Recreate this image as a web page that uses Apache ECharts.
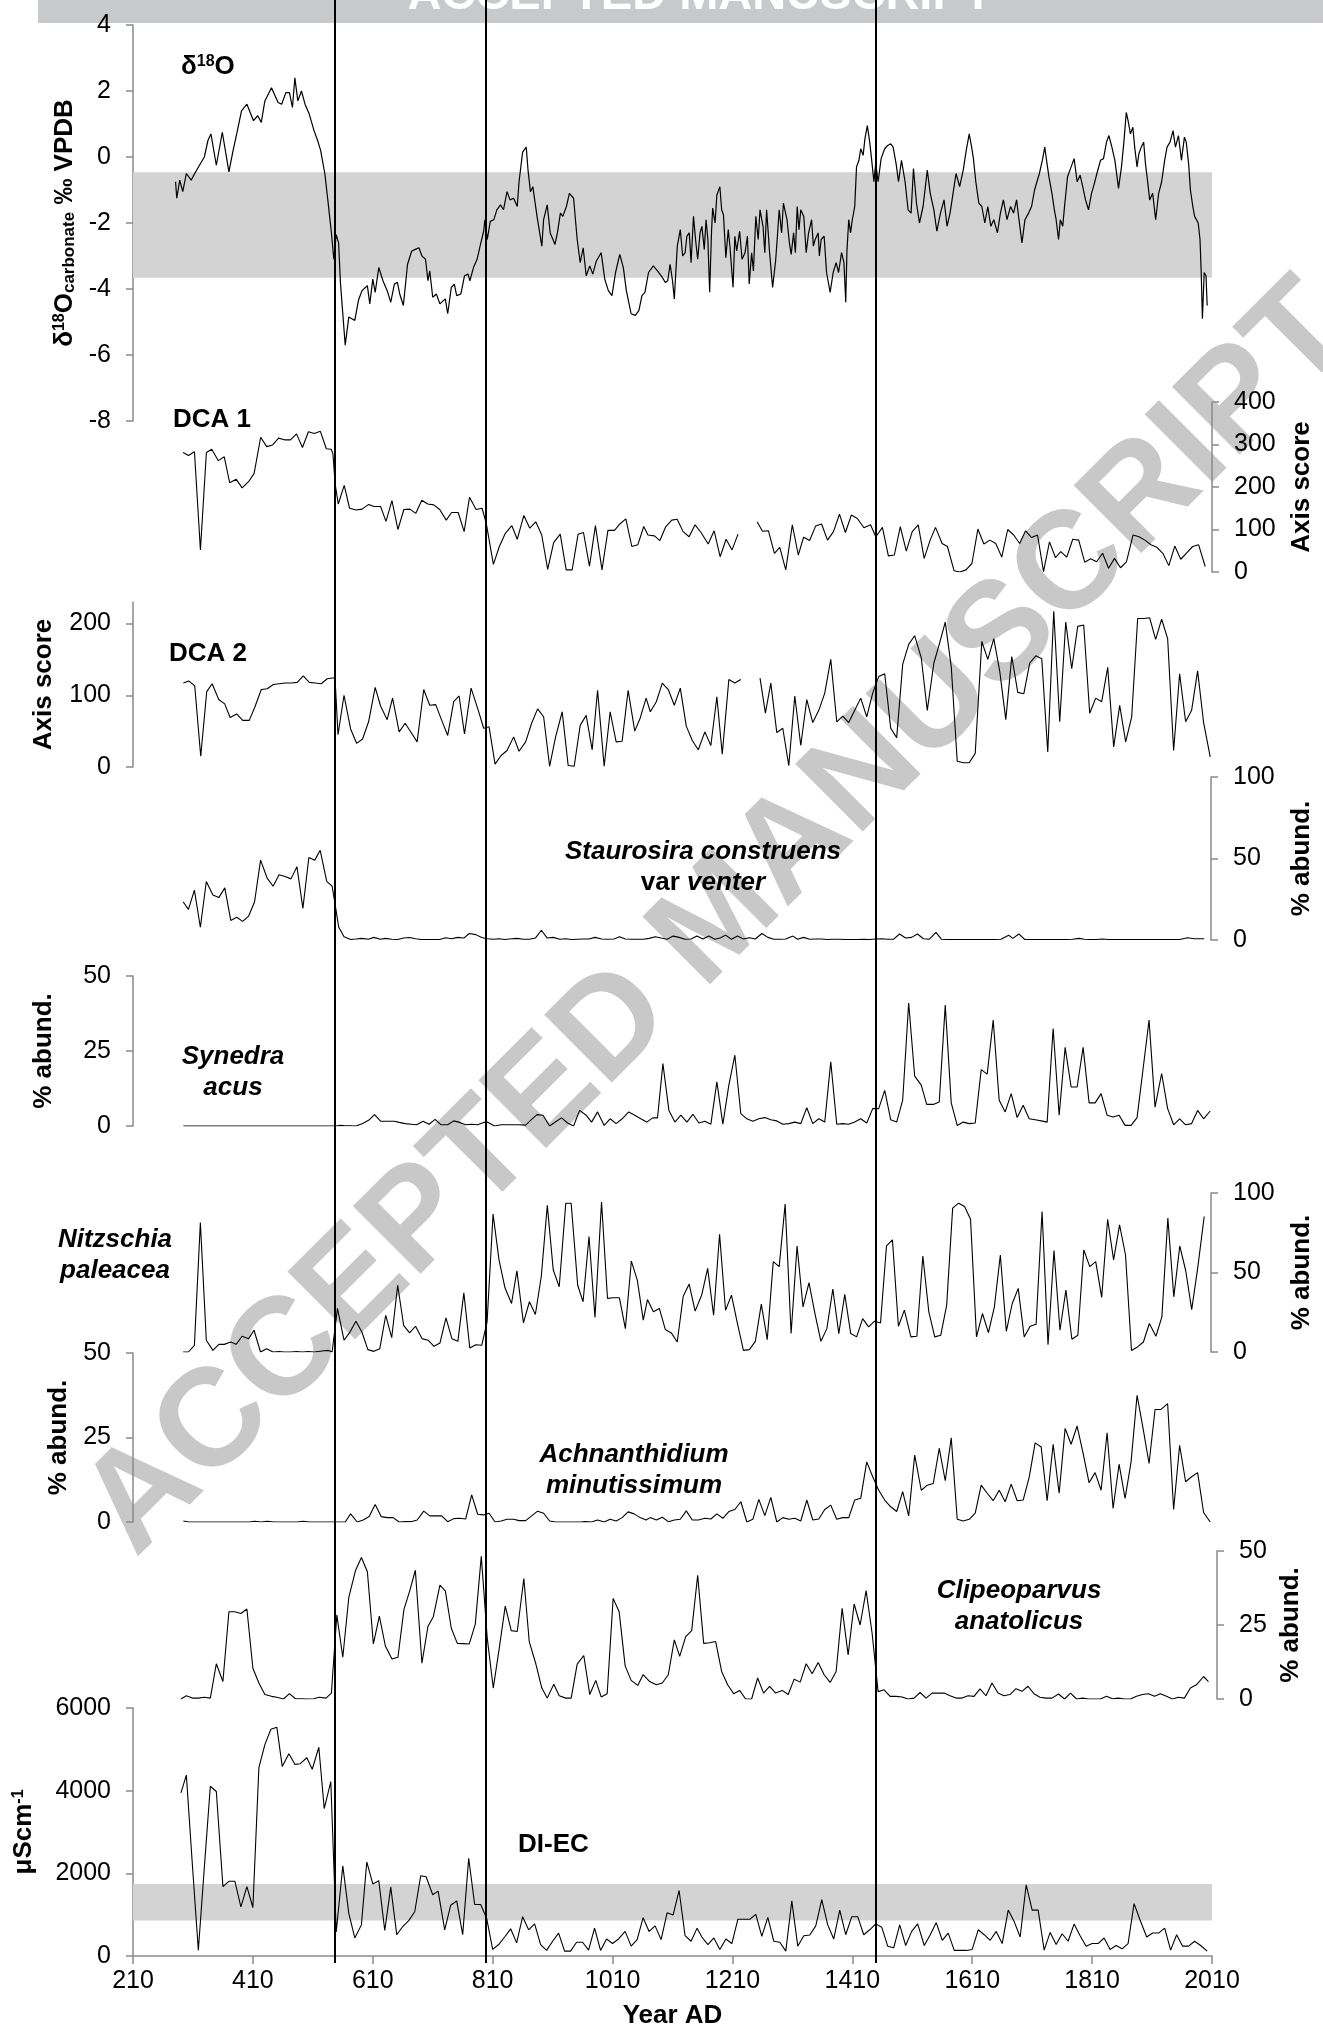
<!DOCTYPE html>
<html>
<head>
<meta charset="utf-8">
<script src="https://cdn.jsdelivr.net/npm/echarts@6/dist/echarts.min.js"></script>
<style>
  html, body { margin: 0; padding: 0; background: #fff; }
  #chart { width: 1323px; height: 2030px; }
</style>
</head>
<body>
<div id="chart"></div>
<script>
// ---- Data: [year AD, value] ----
const yearTicks = [210, 410, 610, 810, 1010, 1210, 1410, 1610, 1810, 2010];
const zoneBoundaries = [547, 798, 1449];

const d18O = [[281,-0.75],[283,-1.25],[288,-0.7],[293,-1.05],[299,-0.5],[307,-0.7],[316,-0.4],[329,0.0],[335,0.5],[340,0.7],[349,-0.25],[359,0.75],[370,-0.45],[377,0.2],[383,0.7],[391,1.4],[400,1.6],[411,1.1],[418,1.25],[424,1.05],[430,1.7],[441,2.1],[452,1.65],[458,1.6],[465,1.95],[471,1.95],[476,1.5],[480,2.4],[485,1.7],[491,2.0],[497,1.6],[504,1.3],[512,0.8],[518,0.5],[523,0.2],[526,-0.1],[530,-0.5],[535,-1.3],[541,-2.3],[545,-3.1],[549,-2.35],[553,-2.6],[556,-3.8],[560,-4.75],[564,-5.7],[570,-4.85],[575,-4.9],[580,-4.95],[586,-4.35],[592,-4.05],[601,-3.9],[605,-4.45],[610,-3.7],[614,-4.1],[620,-3.35],[627,-3.75],[634,-4.05],[640,-4.4],[646,-3.85],[651,-3.8],[655,-4.15],[661,-4.5],[668,-3.25],[675,-2.85],[681,-2.8],[687,-2.75],[692,-3.0],[698,-3.1],[702,-3.75],[705,-3.45],[710,-4.25],[716,-4.15],[722,-4.45],[731,-4.3],[735,-4.75],[741,-3.95],[746,-3.85],[750,-4.2],[757,-4.15],[763,-3.6],[769,-3.55],[772,-3.75],[778,-3.35],[784,-3.1],[789,-2.7],[795,-2.25],[797,-1.9],[801,-2.5],[806,-1.95],[812,-1.9],[817,-1.6],[823,-1.45],[828,-1.6],[834,-1.05],[839,-1.3],[845,-1.25],[851,-1.5],[854,-0.75],[860,0.15],[866,0.3],[869,-0.4],[873,-1.05],[877,-0.9],[884,-1.8],[892,-2.7],[895,-1.9],[901,-1.45],[906,-2.3],[914,-2.65],[918,-2.3],[923,-1.7],[927,-1.8],[933,-1.5],[938,-1.1],[945,-1.25],[951,-2.5],[956,-3.2],[961,-2.75],[966,-3.6],[972,-3.3],[977,-3.55],[983,-3.15],[991,-2.9],[997,-3.7],[1003,-4.05],[1009,-4.2],[1015,-3.5],[1022,-2.95],[1028,-3.35],[1033,-4.05],[1041,-4.75],[1048,-4.8],[1054,-4.65],[1059,-4.2],[1064,-4.1],[1070,-3.5],[1078,-3.3],[1085,-3.45],[1093,-3.65],[1098,-3.8],[1102,-3.75],[1106,-3.25],[1110,-3.75],[1113,-4.3],[1118,-2.7],[1123,-2.2],[1127,-3.0],[1131,-2.9],[1134,-2.4],[1138,-2.3],[1141,-3.2],[1145,-1.8],[1149,-2.6],[1152,-3.1],[1156,-2.3],[1159,-2.1],[1163,-2.8],[1166,-1.9],[1169,-2.5],[1172,-4.1],[1175,-2.3],[1177,-1.55],[1181,-2.0],[1184,-1.15],[1189,-0.9],[1192,-1.6],[1195,-1.75],[1199,-3.05],[1203,-2.2],[1206,-2.75],[1211,-3.95],[1214,-2.4],[1217,-2.85],[1222,-2.25],[1226,-3.1],[1231,-2.9],[1235,-2.4],[1238,-3.85],[1242,-2.9],[1245,-3.45],[1249,-1.8],[1253,-2.5],[1256,-1.6],[1261,-2.1],[1264,-2.9],[1267,-1.6],[1272,-2.9],[1277,-3.95],[1282,-3.15],[1285,-2.4],[1288,-1.6],[1292,-2.3],[1295,-1.4],[1301,-1.9],[1305,-2.6],[1308,-2.95],[1312,-2.3],[1315,-2.9],[1318,-1.5],[1321,-2.2],[1324,-1.6],[1329,-1.8],[1333,-2.9],[1337,-2.3],[1342,-1.9],[1345,-2.7],[1348,-2.5],[1353,-2.3],[1355,-3.0],[1358,-2.5],[1363,-2.4],[1367,-3.5],[1373,-4.1],[1378,-3.5],[1383,-3.2],[1387,-3.5],[1392,-2.9],[1396,-3.2],[1399,-4.4],[1401,-2.85],[1404,-1.9],[1407,-2.3],[1410,-1.9],[1414,-1.5],[1417,-0.3],[1421,-0.1],[1424,0.25],[1428,0.05],[1431,0.55],[1435,0.95],[1439,0.45],[1442,-0.05],[1446,-0.75],[1449,-0.2],[1453,-0.75],[1458,-0.05],[1464,0.25],[1469,0.35],[1474,0.4],[1478,0.3],[1483,-0.2],[1487,-0.75],[1492,-0.1],[1498,-0.75],[1503,-1.6],[1508,-1.7],[1512,-0.35],[1517,-1.4],[1522,-2.0],[1528,-1.5],[1535,-0.4],[1540,-1.1],[1546,-1.6],[1551,-2.25],[1557,-1.7],[1563,-1.3],[1568,-2.1],[1573,-1.7],[1578,-1.1],[1583,-0.5],[1589,-0.9],[1595,-0.4],[1600,0.2],[1605,0.7],[1609,0.3],[1612,-0.05],[1616,-0.75],[1621,-1.4],[1626,-1.5],[1631,-2.0],[1636,-1.5],[1641,-2.1],[1646,-1.9],[1652,-2.3],[1657,-1.7],[1662,-1.3],[1668,-1.9],[1674,-1.5],[1679,-1.7],[1684,-1.3],[1688,-1.9],[1693,-2.6],[1698,-1.9],[1704,-1.7],[1709,-1.5],[1714,-1.0],[1722,-0.5],[1727,-0.1],[1731,0.3],[1734,-0.1],[1738,-0.6],[1743,-1.1],[1747,-1.6],[1750,-1.9],[1754,-2.5],[1757,-1.9],[1761,-2.1],[1764,-1.5],[1769,-0.6],[1775,-0.3],[1780,-0.05],[1785,-0.75],[1790,-0.55],[1795,-0.95],[1799,-1.3],[1804,-1.6],[1809,-1.1],[1813,-0.85],[1818,-0.5],[1824,-0.1],[1829,-0.05],[1834,0.45],[1838,0.65],[1843,0.3],[1848,-0.1],[1854,-0.95],[1859,-0.3],[1863,0.45],[1867,1.35],[1870,1.1],[1874,0.7],[1878,0.9],[1881,0.3],[1885,-0.3],[1888,0.1],[1892,0.3],[1896,0.45],[1899,-0.2],[1903,-0.8],[1906,-1.3],[1911,-1.1],[1916,-1.9],[1921,-1.1],[1926,-0.75],[1931,-0.1],[1935,0.3],[1940,0.45],[1945,0.8],[1949,0.3],[1954,0.65],[1959,-0.1],[1964,0.6],[1967,0.45],[1971,-0.2],[1974,-1.0],[1978,-1.5],[1981,-1.8],[1987,-2.0],[1990,-2.5],[1992,-3.5],[1994,-4.9],[1997,-3.5],[2000,-3.6],[2002,-4.5]];

const dca1 = [[294,281],[303,274],[313,283],[323,52],[333,281],[342,289],[353,262],[363,271],[372,210],[383,218],[393,198],[404,213],[413,232],[424,317],[434,295],[444,299],[454,315],[464,311],[474,311],[484,325],[494,293],[504,330],[514,326],[524,331],[534,290],[542,289],[545,279],[549,205],[554,160],[564,204],[573,150],[584,146],[594,148],[605,159],[614,154],[625,154],[634,119],[644,168],[654,100],[664,147],[674,148],[684,138],[694,169],[704,160],[714,158],[724,147],[735,122],[744,140],[755,140],[765,95],[774,176],[785,147],[795,150],[802,115],[814,18],[824,60],[834,91],[845,109],[854,77],[865,133],[875,103],[885,118],[895,87],[905,6],[915,69],[926,89],[936,5],[946,5],[956,89],[965,93],[975,14],[985,109],[996,5],[1006,98],[1017,98],[1026,113],[1036,125],[1046,60],[1056,64],[1066,107],[1073,87],[1084,85],[1093,74],[1103,107],[1113,122],[1122,124],[1132,95],[1142,83],[1152,111],[1162,93],[1174,66],[1184,97],[1194,36],[1204,77],[1214,52],[1224,89],[1240,null],[1256,118],[1265,96],[1275,97],[1285,44],[1294,58],[1304,5],[1315,111],[1325,40],[1334,82],[1344,74],[1354,108],[1364,113],[1374,75],[1384,95],[1394,136],[1404,93],[1414,134],[1424,126],[1435,104],[1446,111],[1455,83],[1466,105],[1476,38],[1486,40],[1496,107],[1506,49],[1516,95],[1526,111],[1536,32],[1546,75],[1555,105],[1566,67],[1575,60],[1586,3],[1596,0],[1606,5],[1616,20],[1626,101],[1636,66],[1646,75],[1656,67],[1666,35],[1676,100],[1686,87],[1696,67],[1706,97],[1716,81],[1726,87],[1736,1],[1746,71],[1756,34],[1765,48],[1775,35],[1785,77],[1795,75],[1805,23],[1815,31],[1825,24],[1835,44],[1845,9],[1855,32],[1865,10],[1875,24],[1886,87],[1896,83],[1906,75],[1916,64],[1926,58],[1936,44],[1946,15],[1956,61],[1966,30],[1976,45],[1986,60],[1996,64],[2007,13]];

const dca2 = [[294,117],[303,120],[313,113],[323,15],[333,105],[342,116],[353,94],[363,88],[372,69],[383,74],[393,65],[404,65],[413,83],[424,108],[434,109],[444,115],[454,116],[464,117],[474,117],[484,118],[494,127],[504,118],[514,117],[524,116],[534,123],[542,124],[547,124],[552,45],[562,100],[573,53],[583,33],[593,39],[603,63],[614,111],[623,85],[634,66],[643,96],[654,49],[664,61],[674,48],[684,35],[695,108],[705,86],[715,87],[725,65],[735,44],[745,91],[754,99],[763,46],[774,110],[786,79],[795,54],[804,56],[814,4],[824,16],[834,23],[845,42],[854,22],[865,35],[875,61],[885,81],[895,70],[905,1],[915,42],[926,77],[936,2],[946,1],[956,58],[966,72],[976,24],[985,107],[996,1],[1006,77],[1016,35],[1026,36],[1036,107],[1047,50],[1056,68],[1066,96],[1073,77],[1083,91],[1093,117],[1103,108],[1113,86],[1123,110],[1133,57],[1143,37],[1153,24],[1164,49],[1174,30],[1184,98],[1193,18],[1204,122],[1214,117],[1224,122],[1240,null],[1256,124],[1265,75],[1274,117],[1284,48],[1294,54],[1304,2],[1314,99],[1324,30],[1334,94],[1344,62],[1354,79],[1364,103],[1374,150],[1384,63],[1394,71],[1404,62],[1414,79],[1424,96],[1434,70],[1444,103],[1454,126],[1464,130],[1474,54],[1484,41],[1494,143],[1504,171],[1514,183],[1525,152],[1535,79],[1546,145],[1555,171],[1565,202],[1575,140],[1585,8],[1595,6],[1605,6],[1615,19],[1626,175],[1636,150],[1646,179],[1656,133],[1666,66],[1676,154],[1686,104],[1696,102],[1706,145],[1716,155],[1726,151],[1736,21],[1746,217],[1756,63],[1766,202],[1776,137],[1786,196],[1796,198],[1806,75],[1816,96],[1826,91],[1836,139],[1846,28],[1856,86],[1866,35],[1876,70],[1886,207],[1896,207],[1906,208],[1916,178],[1926,206],[1936,179],[1946,23],[1956,130],[1966,63],[1976,79],[1986,134],[1996,62],[2007,14]];

const staurosira = [[294,23.5],[303,18.8],[313,30.6],[323,7.8],[333,35.9],[344,27.6],[354,26],[364,32],[374,12],[384,14],[394,11.4],[404,14.7],[414,23.5],[424,49],[435,38],[445,33],[455,40],[465,39],[475,37.5],[485,45],[495,19.4],[505,50.6],[515,49],[524,55],[535,36],[544,33],[549,22],[555,8],[564,2],[575,0.3],[584,0.6],[594,1],[605,0.5],[614,1.6],[625,0.5],[634,1],[644,0.5],[654,0.3],[664,1.2],[674,1.5],[684,0.8],[694,0.3],[704,0.3],[714,0.3],[724,0.3],[735,1.4],[744,0.8],[755,1.6],[765,1.2],[774,4],[785,3.3],[795,1.5],[804,0.8],[814,0.5],[824,0.8],[834,0.3],[845,0.8],[854,1],[865,0.5],[875,0.5],[885,1.2],[895,6],[905,1.2],[915,1.6],[926,0.5],[936,0.8],[946,0.3],[956,0.5],[965,0.6],[975,0.6],[985,1.6],[996,0.6],[1006,0.5],[1017,0.6],[1026,2],[1036,0.6],[1046,0.5],[1056,0.5],[1066,0.5],[1076,1],[1086,2],[1096,1.2],[1106,0.5],[1116,2.4],[1126,1.6],[1136,0.5],[1146,0.6],[1156,2.4],[1166,0.6],[1176,2.4],[1186,0.5],[1196,1.4],[1204,3],[1214,0.5],[1224,2.4],[1234,0.6],[1244,1.4],[1254,0.6],[1265,4],[1275,1.6],[1285,0.5],[1295,0.5],[1305,0.6],[1317,2.4],[1325,0.5],[1335,1.6],[1345,0.5],[1355,0.6],[1365,0.6],[1375,0.3],[1385,0.5],[1395,0.5],[1405,0.3],[1415,0.3],[1425,0.3],[1435,0.5],[1446,0.3],[1455,0.6],[1466,0.8],[1476,0.5],[1486,0.5],[1496,3.7],[1506,1.2],[1516,1.6],[1526,3.7],[1536,0.8],[1546,0.5],[1557,4.7],[1566,0.5],[1576,0.3],[1586,0.3],[1596,0.3],[1606,0.3],[1616,0.3],[1626,0.3],[1636,0.3],[1646,0.3],[1656,0.3],[1666,0.5],[1679,2.9],[1686,1],[1696,3.7],[1706,0.3],[1716,0.3],[1726,0.3],[1736,0.3],[1746,0.3],[1756,0.3],[1766,0.3],[1776,0.3],[1786,0.5],[1797,1],[1806,0.5],[1816,0.3],[1826,0.3],[1836,0.6],[1846,0.3],[1856,0.3],[1866,0.3],[1876,0.3],[1886,0.3],[1896,0.3],[1906,0.3],[1916,0.3],[1926,0.3],[1936,0.3],[1946,0.3],[1956,0.3],[1966,0.3],[1979,1.4],[1990,0.8],[2007,0.8]];

const synedra = [[294,0],[303,0],[313,0],[323,0],[333,0],[342,0],[353,0],[363,0],[372,0],[383,0],[393,0],[404,0],[413,0],[424,0],[434,0],[444,0],[454,0],[464,0],[474,0],[484,0],[494,0],[504,0],[514,0],[524,0],[534,0],[542,0],[549,0],[556,0.2],[564,0.1],[573,0.1],[582,0],[593,0.8],[603,1.9],[613,3.8],[623,1.6],[634,1.6],[646,1.6],[654,1.2],[664,0.8],[674,0.6],[683,0.4],[694,1.6],[704,0.6],[714,2.2],[724,0.4],[735,0.4],[745,1.7],[755,1.2],[765,0.4],[775,0.6],[785,0.4],[795,1.2],[801,1.3],[813,0],[824,0.4],[834,0.4],[845,0.4],[854,0.4],[865,0.3],[875,2.2],[884,3.8],[894,3.6],[905,0],[915,1.4],[925,2.7],[935,1],[945,0],[955,5.2],[966,3.6],[975,1.3],[985,4.7],[996,0.2],[1006,2.4],[1016,0.8],[1026,2.4],[1037,4.7],[1047,3.6],[1057,2.4],[1067,1.3],[1077,2.7],[1085,2.7],[1094,20.8],[1104,5.2],[1114,1.3],[1124,3.6],[1134,1.3],[1144,3.9],[1154,1],[1164,1.6],[1174,0.6],[1184,14.7],[1194,0.6],[1204,13.6],[1214,23.6],[1224,4.1],[1234,2.4],[1244,1.6],[1254,2.4],[1264,2.8],[1274,2.1],[1284,1.7],[1294,0.6],[1304,0.8],[1314,1.3],[1324,0.8],[1334,6.1],[1344,0.8],[1354,2.4],[1364,1.3],[1374,21.4],[1384,0.6],[1394,0.8],[1404,0.6],[1414,1.3],[1424,2.4],[1434,1],[1444,5.8],[1454,5.8],[1464,11.9],[1474,2.1],[1484,1.3],[1494,8.6],[1504,41],[1514,16.6],[1525,13.6],[1534,7.2],[1545,7.2],[1555,8],[1565,40.3],[1575,7.7],[1585,0.2],[1595,1.3],[1605,0.8],[1615,1],[1625,18.8],[1635,17.3],[1645,35.3],[1655,8.6],[1665,4.7],[1675,10.8],[1685,2.8],[1695,6.9],[1705,2.4],[1715,2.1],[1725,1.7],[1735,1.3],[1745,32.5],[1755,3.6],[1765,26.2],[1775,13],[1785,13],[1795,26.2],[1805,7.7],[1815,7.7],[1825,10.8],[1835,3.6],[1845,3],[1855,3.6],[1865,0.2],[1875,0.2],[1885,2.8],[1895,19],[1905,35.3],[1915,6.3],[1926,17.5],[1936,5.8],[1946,0.4],[1956,2.4],[1966,0.4],[1976,0.8],[1986,5.2],[1996,2.4],[2007,5]];

const nitzschia = [[294,0],[303,0],[313,4.2],[323,81.4],[333,7.4],[344,1],[354,4.8],[363,4.8],[374,6.3],[383,4.8],[393,9.9],[404,8.4],[413,13.7],[424,0],[434,2.1],[445,0],[455,0.3],[464,0],[474,0],[484,0.3],[494,0],[504,0.3],[514,0],[527,0.6],[538,1],[544,0],[553,27.4],[564,7.4],[573,12],[584,19.4],[594,12.6],[604,1.5],[614,0.4],[624,2.1],[634,23.1],[644,9],[654,42],[664,16.8],[674,12],[684,16.2],[695,8.4],[705,7.4],[715,3.6],[725,5.7],[735,21.5],[745,8.4],[755,6.7],[765,37.2],[775,2.5],[785,4.6],[795,4.2],[804,18.9],[814,86.7],[824,57.9],[834,40.4],[845,30.5],[854,51],[865,18.3],[875,31.6],[885,23.6],[895,47.8],[905,92.2],[915,51.6],[925,41],[936,93.6],[945,93.6],[956,42],[965,31.6],[975,72.6],[985,21.7],[996,94.3],[1006,33.7],[1016,34.1],[1026,34.1],[1036,14.7],[1046,57.2],[1056,45.2],[1066,20],[1073,33],[1083,25.3],[1093,27.4],[1103,14.1],[1113,12],[1123,6.3],[1133,35.1],[1143,42.7],[1153,25.7],[1164,35.8],[1174,52.6],[1184,23.1],[1194,74.1],[1204,26.3],[1214,35.8],[1224,17.9],[1234,1],[1244,1.5],[1254,6.7],[1264,30.1],[1274,7.8],[1284,56.8],[1294,53.7],[1304,93],[1314,11.6],[1324,66.7],[1334,28.4],[1344,43.6],[1354,24.2],[1364,6.7],[1374,14.7],[1384,39.6],[1394,11.6],[1404,36.2],[1414,11.6],[1424,9.5],[1434,21],[1444,15.8],[1454,19.4],[1464,18.3],[1474,66.7],[1484,70.5],[1494,16.2],[1504,26.3],[1515,9.5],[1525,9.9],[1535,60.4],[1545,25.3],[1555,9.5],[1565,10.5],[1575,29.5],[1585,90.5],[1595,93.6],[1605,91.5],[1615,83.5],[1625,9.5],[1635,24.2],[1645,12.2],[1655,28.4],[1665,61],[1675,13],[1685,30.5],[1695,40],[1705,9.5],[1715,16.2],[1725,17.5],[1735,88.4],[1745,4.6],[1755,63.8],[1765,13.7],[1775,38.9],[1785,8],[1795,10.5],[1805,64.2],[1815,53.7],[1825,56.8],[1835,34.3],[1845,83.5],[1855,57.9],[1865,80],[1875,61],[1885,1],[1895,3.2],[1905,6.3],[1915,17.9],[1926,9.9],[1936,22.1],[1946,84.2],[1956,34.7],[1966,66.7],[1976,51.1],[1986,26.7],[1996,52.6],[2007,85.2]];

const achnanthidium = [[294,0.3],[303,0],[313,0],[323,0],[333,0],[344,0],[354,0],[363,0],[374,0],[383,0],[393,0],[404,0],[413,0.2],[424,0],[434,0.2],[445,0],[455,0],[464,0],[474,0],[484,0],[494,0.2],[504,0],[514,0],[524,0],[534,0],[544,0],[553,0],[564,0],[573,2.4],[584,0],[594,0.6],[604,1.6],[614,5.2],[624,1.6],[634,1.3],[644,1.3],[654,0],[664,0.1],[674,0.1],[684,0.6],[695,3.2],[705,1.8],[715,1.8],[725,1.8],[735,0.1],[745,1],[755,1.1],[765,0.9],[775,8],[785,2.3],[795,2.1],[804,2.6],[814,0],[824,0.3],[834,0.8],[845,0.8],[854,0.4],[865,0.4],[875,1.8],[885,3.2],[895,2.6],[905,0.3],[915,0],[925,0],[936,0],[945,0],[956,0],[965,0.1],[975,0],[985,0.6],[996,0],[1006,0.8],[1016,0.3],[1026,1.3],[1036,3],[1046,2.4],[1056,1.3],[1066,0.6],[1073,1.3],[1083,0.6],[1093,1.4],[1103,0.1],[1113,0.6],[1123,0.8],[1133,3.3],[1143,0.6],[1153,0.6],[1164,1.1],[1174,0.9],[1184,2.4],[1194,1.1],[1204,3.1],[1214,3.7],[1224,6],[1234,0],[1244,0.8],[1254,6.7],[1264,1.9],[1274,7.3],[1284,0],[1294,1.3],[1304,0.8],[1314,1.1],[1324,0.3],[1334,6.5],[1344,0.6],[1354,0.9],[1364,3.7],[1374,5],[1384,0.8],[1394,1.3],[1404,1.3],[1414,6.5],[1424,7],[1434,17.8],[1444,13.4],[1454,9.4],[1464,6.5],[1474,4.5],[1484,3.1],[1494,9],[1504,1.8],[1514,19.8],[1525,9.4],[1535,10.9],[1545,11.4],[1555,21.8],[1565,12.2],[1575,24.9],[1585,0.8],[1595,0.3],[1605,0.8],[1615,2.6],[1625,10.9],[1635,8.5],[1645,6.3],[1655,9.4],[1665,6],[1675,11.2],[1685,6.3],[1695,6.5],[1705,13.2],[1715,23.4],[1725,22.2],[1735,6.3],[1745,23],[1755,8.5],[1765,27.7],[1775,23],[1785,28.4],[1795,20.3],[1805,11.6],[1815,14.6],[1825,9.4],[1835,26.4],[1845,4],[1855,17.1],[1865,7],[1875,17.8],[1885,37.5],[1895,27.7],[1905,17.3],[1915,33.3],[1925,33.3],[1936,35],[1946,3.7],[1956,22.7],[1966,11.9],[1976,13.4],[1986,14.6],[1996,2.8],[2007,0]];

const clipeoparvus = [[290,0],[299,1.1],[309,0.3],[319,0.3],[329,0.6],[339,0.3],[349,11.9],[360,5.9],[370,29.5],[380,29.5],[390,28.9],[400,30.4],[410,10.4],[420,5.4],[430,1.5],[441,0.9],[450,0.6],[461,0],[471,1.8],[481,0.1],[491,0.1],[501,0],[511,0.1],[521,0.6],[532,0.3],[541,2],[550,28.4],[560,14.1],[570,34.3],[581,43.3],[591,47.8],[601,43],[611,18.6],[621,28],[631,17.9],[642,13.5],[652,14.1],[662,30.3],[672,36.8],[681,43.5],[692,12.1],[702,24.5],[711,27.8],[722,38.5],[731,36.5],[741,23.9],[751,18.8],[761,18.7],[771,18.6],[781,25.3],[791,48.2],[801,20.5],[811,3.7],[821,17.2],[831,31.4],[841,23.1],[851,22.8],[862,40.7],[871,19.4],[882,11.9],[892,3.7],[901,0.3],[912,5],[921,1.1],[932,0.3],[941,0.3],[951,11.8],[962,14.7],[972,1.5],[982,6.3],[991,0.7],[1001,1.8],[1011,34],[1021,29.5],[1031,11.2],[1041,6.3],[1052,4.6],[1061,8.2],[1072,5.9],[1083,4.8],[1093,5.4],[1103,8.2],[1113,20],[1122,14.4],[1132,21.1],[1142,23.1],[1152,41.8],[1162,18.8],[1172,19],[1182,19.4],[1192,9.3],[1202,4.8],[1212,1.8],[1222,2.9],[1232,0],[1242,0],[1252,7.1],[1262,2],[1272,4.3],[1282,2],[1293,2.9],[1303,1.5],[1313,6.7],[1323,5.7],[1333,11.9],[1343,8.5],[1353,12.3],[1363,8.2],[1373,5.6],[1383,9.3],[1393,30.6],[1403,14.9],[1413,32.1],[1423,25],[1433,36.6],[1443,22.2],[1453,2.5],[1463,3.1],[1473,0.9],[1483,0.9],[1493,0.7],[1503,0],[1513,0.3],[1523,2.2],[1533,0.3],[1543,2],[1553,2],[1563,2],[1573,1.1],[1583,0.3],[1593,0.3],[1603,1.1],[1613,0.9],[1623,3.4],[1633,1.1],[1643,5.4],[1653,2],[1663,1.1],[1673,1.5],[1683,3.5],[1693,2.6],[1703,4.3],[1713,1.8],[1723,0.6],[1733,0.3],[1743,0.3],[1754,1.7],[1764,0],[1774,2],[1784,0],[1794,0.3],[1804,0],[1814,0],[1824,0],[1834,0.9],[1844,0.1],[1854,0.3],[1864,0],[1874,0],[1884,0.9],[1894,1.5],[1904,1.8],[1914,0.9],[1924,1.8],[1934,0.9],[1944,0],[1954,0.6],[1964,0.3],[1974,3.7],[1984,4.8],[1996,7.6],[2004,5.9]];

const diEC = [[290,3948],[299,4376],[309,2220],[319,143],[329,2140],[339,4106],[349,3979],[360,1680],[370,1807],[380,1807],[390,1189],[400,1680],[410,1173],[420,4558],[430,5113],[440,5485],[450,5533],[459,4582],[470,4891],[480,4637],[489,4653],[500,4796],[509,4518],[520,5050],[529,3567],[540,4217],[549,579],[560,2180],[570,1030],[580,436],[591,753],[600,2275],[610,1744],[620,1823],[630,618],[640,1665],[650,515],[660,713],[670,856],[680,1070],[690,1942],[699,1918],[710,1482],[719,1570],[730,634],[740,1229],[750,1332],[760,515],[770,2362],[780,1245],[790,1245],[800,912],[810,159],[820,277],[830,460],[840,658],[850,317],[860,951],[870,634],[880,777],[890,277],[900,135],[910,357],[920,555],[930,119],[940,119],[950,333],[960,333],[970,143],[980,674],[990,135],[1000,412],[1010,301],[1020,412],[1031,595],[1041,238],[1051,396],[1061,927],[1071,595],[1081,729],[1091,396],[1101,1046],[1111,991],[1121,1585],[1131,491],[1141,357],[1151,674],[1159,460],[1169,277],[1179,436],[1189,159],[1199,412],[1209,301],[1219,888],[1229,888],[1239,888],[1249,1007],[1259,476],[1269,935],[1279,357],[1289,333],[1299,119],[1309,1332],[1319,238],[1329,491],[1339,507],[1349,729],[1359,1363],[1369,753],[1379,412],[1389,1110],[1399,515],[1409,951],[1419,951],[1429,515],[1439,634],[1449,777],[1459,698],[1469,238],[1479,198],[1489,753],[1499,254],[1509,595],[1519,777],[1530,254],[1540,515],[1550,808],[1560,380],[1570,555],[1580,135],[1590,135],[1600,135],[1610,159],[1620,634],[1630,515],[1640,380],[1650,595],[1660,301],[1670,1110],[1680,832],[1690,460],[1700,1720],[1710,1110],[1720,1110],[1730,143],[1740,571],[1750,277],[1760,539],[1770,357],[1780,777],[1790,491],[1800,238],[1810,301],[1820,301],[1830,436],[1840,159],[1850,254],[1860,174],[1870,301],[1880,1268],[1890,872],[1901,460],[1911,555],[1921,555],[1931,674],[1941,143],[1951,515],[1961,238],[1971,238],[1981,357],[1991,254],[2002,119]];

// Reference ranges shaded in grey
const d18OBand = [-0.46, -3.66];
const diECBand = [860, 1740];

// Axis tick values
const d18OTicks = [-8, -6, -4, -2, 0, 2, 4];
const dca1Ticks = [0, 100, 200, 300, 400];
const dca2Ticks = [0, 100, 200];
const pct100Ticks = [0, 50, 100];
const pct50Ticks = [0, 25, 50];
const ecTicks = [0, 2000, 4000, 6000];

// ---- Layout & styling ----
const FONT = '"Liberation Sans", Arial, Helvetica, sans-serif';
const AXIS_GREY = '#8a8a8a';
const PLOT_LEFT = 133, PLOT_RIGHT = 111;
const plain = v => String(v);

const panels = [
  { data: d18O, top: 25, bottom: 421, min: -8, max: 4, ticks: d18OTicks, side: 'left', lw: 1.2,
    name: '{m|δ}{s|18}{m|O}{b|carbonate}{m| ‰ VPDB}', nameGap: 50, band: d18OBand },
  { data: dca1, top: 402, bottom: 572, min: 0, max: 400, ticks: dca1Ticks, side: 'right', name: 'Axis score', nameGap: 77 },
  { data: dca2, top: 602, bottom: 767, min: 0, max: 230, ticks: dca2Ticks, side: 'left', name: 'Axis score', nameGap: 76 },
  { data: staurosira, top: 777, bottom: 940, min: 0, max: 100, ticks: pct100Ticks, side: 'right', name: '% abund.', nameGap: 78 },
  { data: synedra, top: 976, bottom: 1126, min: 0, max: 50, ticks: pct50Ticks, side: 'left', name: '% abund.', nameGap: 76 },
  { data: nitzschia, top: 1193, bottom: 1352, min: 0, max: 100, ticks: pct100Ticks, side: 'right', name: '% abund.', nameGap: 78 },
  { data: achnanthidium, top: 1353, bottom: 1522, min: 0, max: 50, ticks: pct50Ticks, side: 'left', name: '% abund.', nameGap: 60 },
  { data: clipeoparvus, top: 1551, bottom: 1699, min: 0, max: 50, ticks: pct50Ticks, side: 'right', name: '% abund.', nameGap: 61 },
  { data: diEC, top: 1708, bottom: 1960, min: 0, max: 6000, ticks: ecTicks, side: 'left',
    name: '{m|μScm}{s|-1}', nameGap: 96, band: diECBand, xAxis: true }
];

const nameRich = {
  m: { fontSize: 26, fontWeight: 'bold', fontFamily: FONT, color: '#000' },
  s: { fontSize: 16, fontWeight: 'bold', fontFamily: FONT, color: '#000', verticalAlign: 'top', lineHeight: 12 },
  b: { fontSize: 17, fontWeight: 'bold', fontFamily: FONT, color: '#000', verticalAlign: 'bottom', lineHeight: 12 }
};

const grids = [], xAxes = [], yAxes = [], series = [];

panels.forEach((p, i) => {
  grids.push({ left: PLOT_LEFT, right: PLOT_RIGHT, top: p.top, height: p.bottom - p.top });
  xAxes.push({
    gridIndex: i, type: 'value', min: yearTicks[0], max: yearTicks[yearTicks.length - 1],
    show: !!p.xAxis,
    axisLine: { show: true, onZero: false, lineStyle: { color: AXIS_GREY, width: 1.5 } },
    axisTick: { show: true, length: 8, customValues: yearTicks, lineStyle: { color: AXIS_GREY, width: 1.5 } },
    axisLabel: { customValues: yearTicks, formatter: plain, color: '#000', fontSize: 25, fontFamily: FONT, margin: 13 },
    splitLine: { show: false },
    name: p.xAxis ? 'Year AD' : '', nameLocation: 'middle', nameGap: 47,
    nameTextStyle: { color: '#000', fontSize: 26, fontWeight: 'bold', fontFamily: FONT }
  });
  yAxes.push({
    gridIndex: i, type: 'value', position: p.side, offset: p.side === 'right' ? 5 : 0,
    min: p.min, max: p.max,
    axisLine: { show: true, onZero: false, lineStyle: { color: AXIS_GREY, width: 1.5 } },
    axisTick: { show: true, length: 7, customValues: p.ticks, lineStyle: { color: AXIS_GREY, width: 1.5 } },
    axisLabel: { customValues: p.ticks, formatter: plain, color: '#000', fontSize: 25, fontFamily: FONT, margin: 22 },
    splitLine: { show: false },
    name: p.name, nameLocation: 'middle', nameGap: p.nameGap,
    nameTextStyle: { color: '#000', fontSize: 26, fontWeight: 'bold', fontFamily: FONT, rich: nameRich }
  });
  const s = {
    type: 'line', xAxisIndex: i, yAxisIndex: i, data: p.data,
    showSymbol: false, symbol: 'none', connectNulls: false, silent: true,
    lineStyle: { color: '#000', width: p.lw || 1.1 }, z: 3
  };
  if (p.band) {
    s.markArea = {
      silent: true, itemStyle: { color: '#d3d3d3' },
      data: [[{ yAxis: p.band[0] }, { yAxis: p.band[1] }]]
    };
  }
  series.push(s);
});

// Full-height frame carrying the zone boundary lines
const frameIdx = panels.length;
grids.push({ left: PLOT_LEFT, right: PLOT_RIGHT, top: 0, height: 1963 });
xAxes.push({ gridIndex: frameIdx, type: 'value', min: yearTicks[0], max: yearTicks[yearTicks.length - 1], show: false });
yAxes.push({ gridIndex: frameIdx, type: 'value', min: 0, max: 1, show: false });
series.push({
  type: 'line', xAxisIndex: frameIdx, yAxisIndex: frameIdx, data: [], silent: true, z: 5,
  markLine: {
    silent: true, symbol: ['none', 'none'], label: { show: false },
    lineStyle: { color: '#000', width: 2, type: 'solid' },
    data: zoneBoundaries.map(v => ({ xAxis: v }))
  }
});

// Panel captions
function caption(x, y, text, align, rich) {
  return {
    type: 'text', x, y, z: 10, silent: true,
    style: {
      text, rich, fill: '#000', fontFamily: FONT, fontSize: 26, fontWeight: 'bold',
      align, textAlign: align, verticalAlign: 'middle', textVerticalAlign: 'middle'
    }
  };
}
const it = { fontStyle: 'italic', fontWeight: 'bold', fontSize: 26, fontFamily: FONT, fill: '#000', lineHeight: 31 };
const up = { fontStyle: 'normal', fontWeight: 'bold', fontSize: 26, fontFamily: FONT, fill: '#000', lineHeight: 31 };
const supStyle = { m: { fontWeight: 'bold', fontSize: 26, fontFamily: FONT, fill: '#000' },
                   s: { fontWeight: 'bold', fontSize: 16, fontFamily: FONT, fill: '#000', verticalAlign: 'top', lineHeight: 12 } };

const graphics = [
  // header strip
  { type: 'rect', z: 0, silent: true, shape: { x: 38, y: 0, width: 1285, height: 23 }, style: { fill: '#c8c9cb' } },
  { type: 'text', z: 1, silent: true, x: 700, y: -4, style: { text: 'ACCEPTED MANUSCRIPT', fill: '#fff', fontFamily: FONT, fontSize: 47, fontWeight: 'bold', align: 'center', textAlign: 'center', verticalAlign: 'middle', textVerticalAlign: 'middle' } },
  // diagonal stamp
  { type: 'text', z: 0, silent: true, x: 720, y: 920, rotation: Math.PI / 4,
    style: { text: 'ACCEPTED MANUSCRIPT', fill: '#c8c8c8', fontFamily: FONT, fontSize: 139, fontWeight: 'bold', align: 'center', textAlign: 'center', verticalAlign: 'middle', textVerticalAlign: 'middle' } },
  caption(181, 67, '{m|δ}{s|18}{m|O}', 'left', supStyle),
  caption(173, 420, 'DCA 1', 'left'),
  caption(169, 654, 'DCA 2', 'left'),
  caption(703, 867, '{i|Staurosira construens}\n{u|var }{i|venter}', 'center', { i: it, u: up }),
  caption(233, 1072, '{i|Synedra}\n{i|acus}', 'center', { i: it }),
  caption(115, 1255, '{i|Nitzschia}\n{i|paleacea}', 'center', { i: it }),
  caption(634, 1470, '{i|Achnanthidium}\n{i|minutissimum}', 'center', { i: it }),
  caption(1019, 1606, '{i|Clipeoparvus}\n{i|anatolicus}', 'center', { i: it }),
  caption(518, 1845, 'DI-EC', 'left')
];

const chart = echarts.init(document.getElementById('chart'), null, { renderer: 'canvas' });
chart.setOption({
  backgroundColor: '#fff',
  animation: false,
  grid: grids,
  xAxis: xAxes,
  yAxis: yAxes,
  series: series,
  graphic: graphics
});
</script>
</body>
</html>
